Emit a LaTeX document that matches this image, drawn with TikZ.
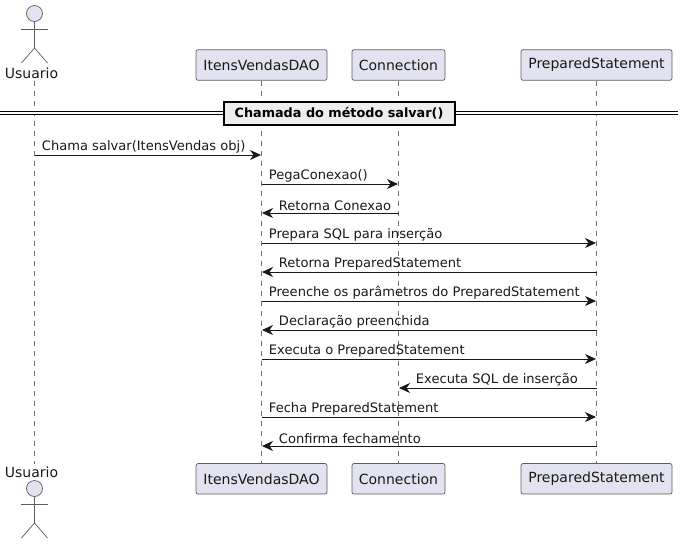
\documentclass[tikz,border=0pt]{standalone}
\usepackage{fontspec}
\setmainfont{DejaVu Sans}
\usetikzlibrary{arrows.meta}
\definecolor{partfill}{HTML}{E2E2F0}
\definecolor{partline}{HTML}{181818}
\definecolor{divfill}{HTML}{EEEEEE}

\tikzset{
  participante/.style={draw=partline!70, fill=partfill, rounded corners=2pt, line width=0.7pt,
    minimum height=30.5pt, inner xsep=0pt, font=\fontsize{14}{16}\selectfont, text=black!90},
  rotulo/.style={font=\fontsize{14}{16}\selectfont, text=black!90, inner sep=0pt, minimum height=15pt},
  cabeca/.style={circle, draw=partline!70, fill=partfill, line width=0.7pt, minimum size=16pt, inner sep=0pt},
  corpo/.style={draw=partline!70, line width=0.7pt},
  vida/.style={draw=partline!60, line width=0.5pt, dash pattern=on 5pt off 5pt},
  msg/.style={draw=partline, line width=0.9pt, -{Stealth[length=11pt,width=10pt,inset=3.5pt]}, shorten >=0.5pt},
  textodir/.style={pos=0, anchor=south west, inner sep=0pt, xshift=7pt, yshift=1.5pt,
    font=\fontsize{13.06}{15}\selectfont, text=black!90},
  textoesq/.style={pos=1, anchor=south west, inner sep=0pt, xshift=17pt, yshift=1.5pt,
    font=\fontsize{13.06}{15}\selectfont, text=black!90},
}

\begin{document}
\begin{tikzpicture}[x=1pt, y=-1pt]
  \useasboundingbox (0,0) rectangle (683,544);

  % Participantes
  \node[participante, minimum width=131pt] (itensTop) at (261.5,65) {ItensVendasDAO};
  \node[participante, minimum width=93pt] (connTop) at (398.5,65) {Connection};
  \node[participante, minimum width=151pt] (prepTop) at (596.5,65) {PreparedStatement};
  \node[participante, minimum width=131pt] (itensBot) at (261.5,478.8) {ItensVendasDAO};
  \node[participante, minimum width=93pt] (connBot) at (398.5,478.8) {Connection};
  \node[participante, minimum width=151pt] (prepBot) at (596.5,478.8) {PreparedStatement};

  % Ator em cima
  \node[cabeca] (cabecaTop) at (34.5,13.5) {};
  \coordinate (quadrilTop) at (34.5,48);
  \coordinate (bracoTopA) at (21,29);
  \coordinate (bracoTopB) at (47.5,29);
  \coordinate (peTopA) at (21.5,63);
  \coordinate (peTopB) at (47.5,63);
  \draw[corpo] (cabecaTop) -- (quadrilTop);
  \draw[corpo] (bracoTopA) -- (bracoTopB);
  \draw[corpo] (peTopA) -- (quadrilTop) -- (peTopB);
  \node[rotulo] (usuarioTop) at (31.5,73) {Usuario};

  % Ator embaixo
  \node[rotulo] (usuarioBot) at (31.5,472) {Usuario};
  \node[cabeca] (cabecaBot) at (34.5,488.5) {};
  \coordinate (quadrilBot) at (34.5,523);
  \coordinate (bracoBotA) at (21,504);
  \coordinate (bracoBotB) at (47.5,504);
  \coordinate (peBotA) at (21.5,538);
  \coordinate (peBotB) at (47.5,538);
  \draw[corpo] (cabecaBot) -- (quadrilBot);
  \draw[corpo] (bracoBotA) -- (bracoBotB);
  \draw[corpo] (peBotA) -- (quadrilBot) -- (peBotB);

  % Linhas de vida
  \coordinate (usuarioA) at (34.5,81);
  \coordinate (usuarioB) at (34.5,464);
  \draw[vida] (usuarioA) -- (usuarioB);
  \draw[vida] (itensTop) -- (itensBot);
  \draw[vida] (connTop) -- (connBot);
  \draw[vida] (prepTop) -- (prepBot);

  % Divisor
  \coordinate (divEsq) at (0,112.8);
  \coordinate (divDir) at (678,112.8);
  \draw[black, line width=0.9pt, double=white, double distance=2pt] (divEsq) -- (divDir);
  \node[draw=black, fill=divfill, line width=2pt, minimum width=231pt, minimum height=23pt, inner sep=0pt,
    font=\bfseries\fontsize{12.8}{15}\selectfont] (divisor) at (339,113) {Chamada do método salvar()\hspace{5pt}};

  % Mensagens
  \coordinate (m1) at (0,155);
  \coordinate (m2) at (0,184);
  \coordinate (m3) at (0,213);
  \coordinate (m4) at (0,243);
  \coordinate (m5) at (0,272);
  \coordinate (m6) at (0,301);
  \coordinate (m7) at (0,330);
  \coordinate (m8) at (0,359);
  \coordinate (m9) at (0,388);
  \coordinate (m10) at (0,417);
  \coordinate (m11) at (0,446);

  \draw[msg] (usuarioA |- m1) -- (itensTop |- m1) node[textodir] (t1) {Chama salvar(ItensVendas obj)};
  \draw[msg] (itensTop |- m2) -- (connTop |- m2) node[textodir] (t2) {PegaConexao()};
  \draw[msg] (connTop |- m3) -- (itensTop |- m3) node[textoesq] (t3) {Retorna Conexao};
  \draw[msg] (itensTop |- m4) -- (prepTop |- m4) node[textodir] (t4) {Prepara SQL para inserção};
  \draw[msg] (prepTop |- m5) -- (itensTop |- m5) node[textoesq] (t5) {Retorna PreparedStatement};
  \draw[msg] (itensTop |- m6) -- (prepTop |- m6) node[textodir] (t6) {Preenche os parâmetros do PreparedStatement};
  \draw[msg] (prepTop |- m7) -- (itensTop |- m7) node[textoesq] (t7) {Declaração preenchida};
  \draw[msg] (itensTop |- m8) -- (prepTop |- m8) node[textodir] (t8) {Executa o PreparedStatement};
  \draw[msg] (prepTop |- m9) -- (connTop |- m9) node[textoesq] (t9) {Executa SQL de inserção};
  \draw[msg] (itensTop |- m10) -- (prepTop |- m10) node[textodir] (t10) {Fecha PreparedStatement};
  \draw[msg] (prepTop |- m11) -- (itensTop |- m11) node[textoesq] (t11) {Confirma fechamento};
\end{tikzpicture}
\end{document}
